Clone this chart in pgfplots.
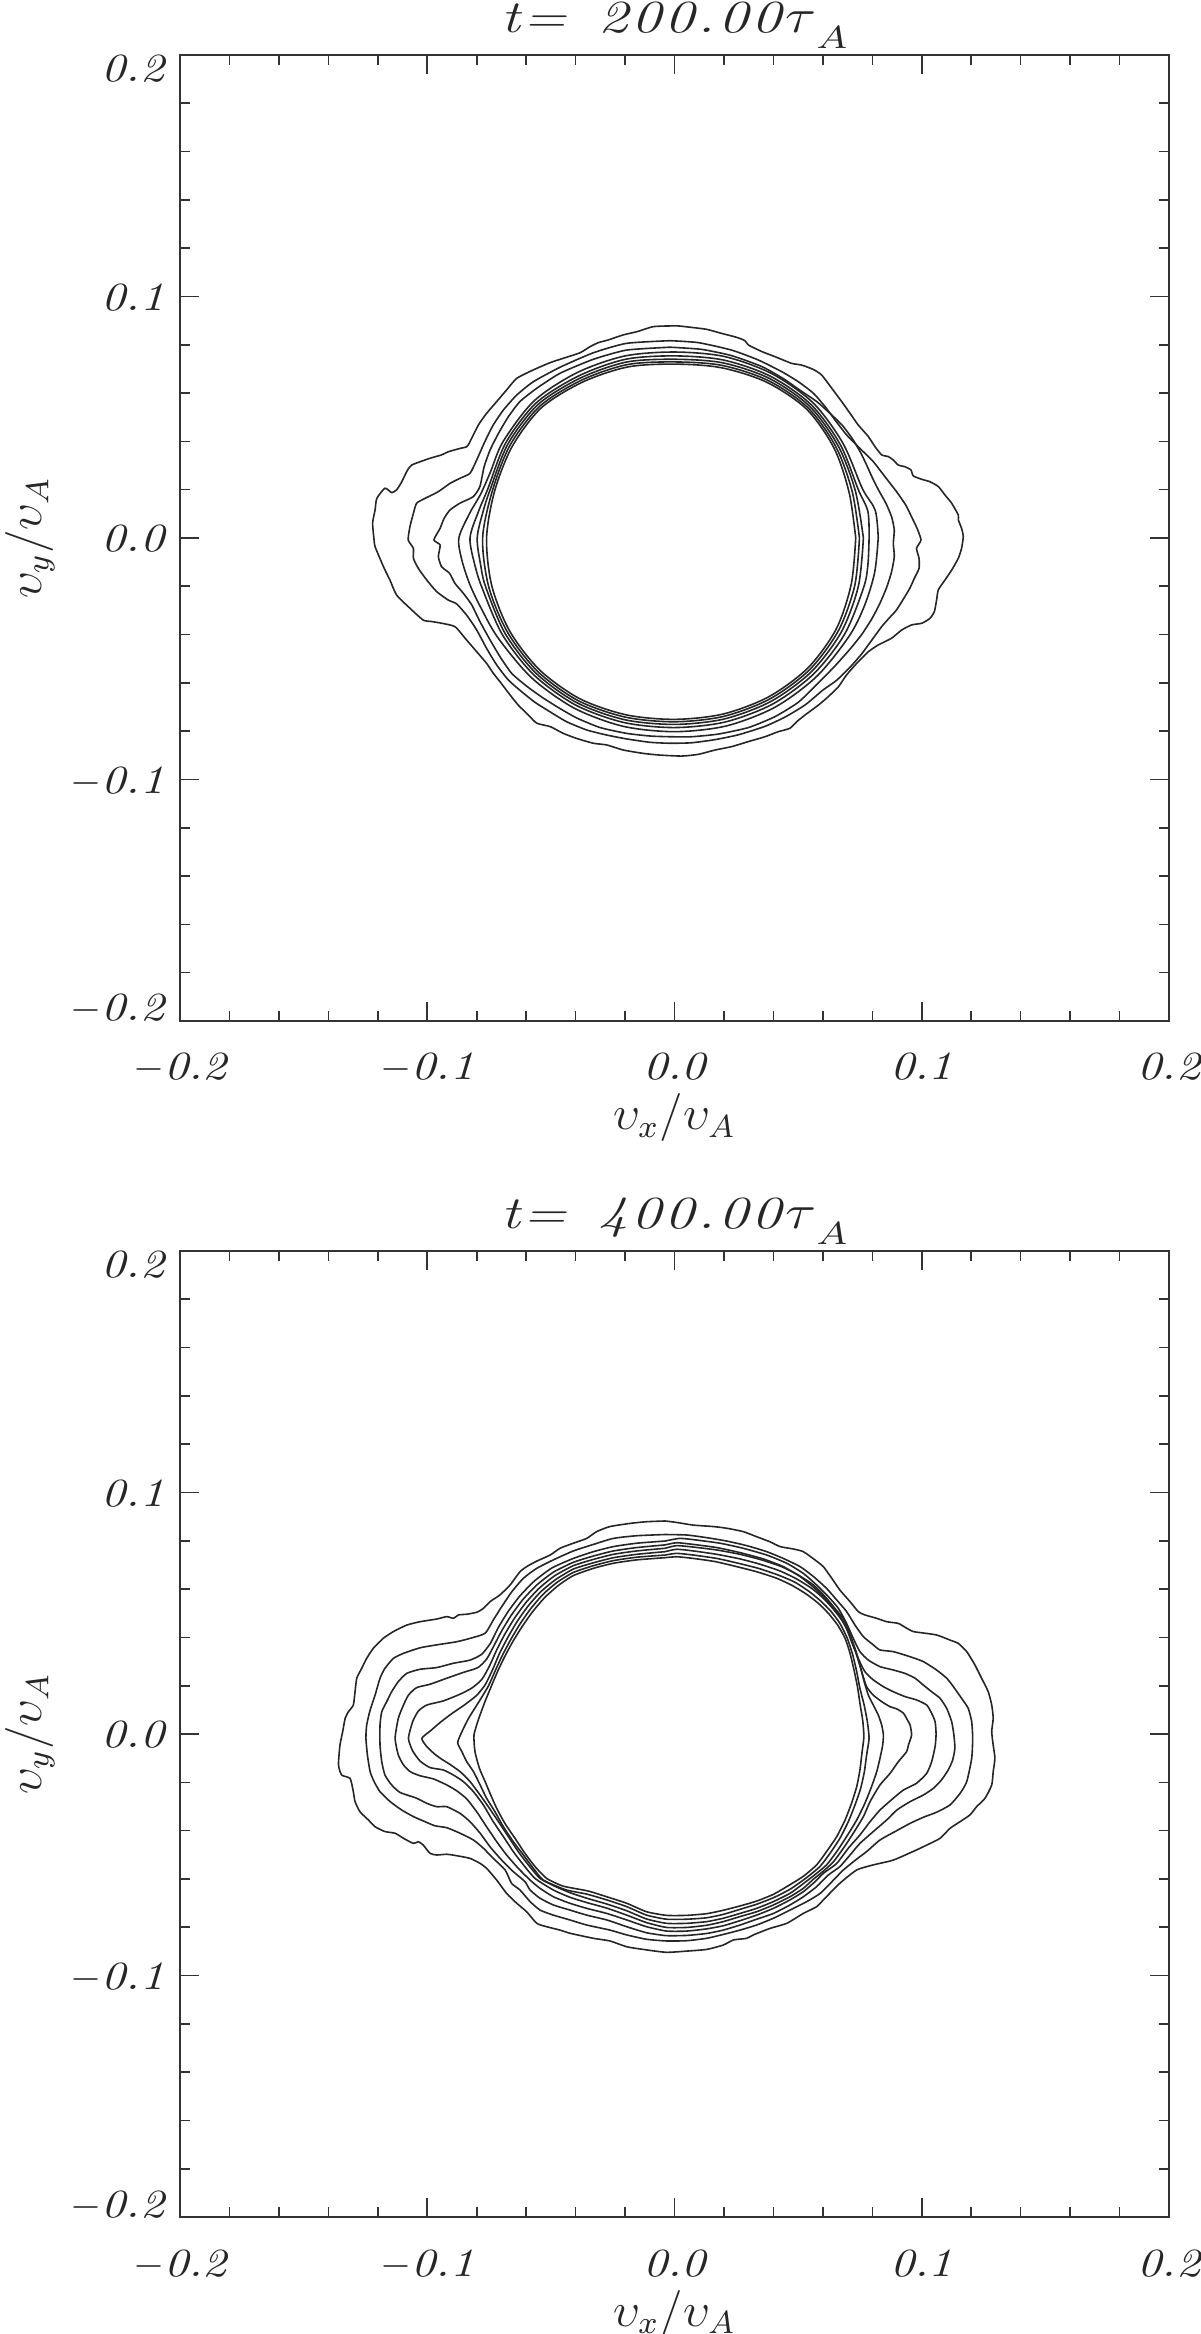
\documentclass[border=0pt]{standalone}
\usepackage{graphicx}
\usepackage{pgfplots}
\pgfplotsset{compat=1.18}
\newcommand{\nm}[1]{\scalebox{1.18}[1]{\itshape #1}}
\newcommand{\tfont}{\fontsize{10}{12}\selectfont}
\newcommand{\lfont}{\fontsize{12}{14}\selectfont}
\newcommand{\ttl}[1]{\fontsize{11.5}{13}\selectfont\scalebox{1.25}[1]{\itshape t\kern0.6pt=}\kern8pt\scalebox{1.3}[1]{\itshape #1}\kern1pt\scalebox{1.2}[1]{$\tau$}\raisebox{-4pt}{\scalebox{1.2}[1]{$\scriptstyle A$}}}
\pgfplotsset{
 cl/.style={draw=black!85, line width=0.4pt, smooth, tension=0.35, mark=none},
 cp/.style={draw=black!85, line width=0.4pt, smooth, tension=0.5, mark=none, data cs=polar},
 panel/.style={
  scale only axis, width=247.25pt, height=241.5pt,
  xmin=-0.2, xmax=0.2, ymin=-0.2, ymax=0.2,
  xtick={-0.2,-0.1,0,0.1,0.2}, ytick={-0.2,-0.1,0,0.1,0.2},
  minor tick num=4, tick align=inside,
  major tick length=4.75pt, minor tick length=2.4pt,
  axis line style={draw=black!80, line width=0.4pt},
  every tick/.style={draw=black!80, line width=0.4pt},
  xticklabels={$-$\nm{0.2},$-$\nm{0.1},\nm{0.0},\nm{0.1},\nm{0.2}},
  yticklabels={\raisebox{0pt}[0pt][0pt]{$-$\nm{0.2}},\raisebox{-3.6pt}[0pt][0pt]{$-$\nm{0.1}},\raisebox{-3.4pt}[0pt][0pt]{\nm{0.0}},\raisebox{-3.6pt}[0pt][0pt]{\nm{0.1}},\raisebox{-6.6pt}[0pt][0pt]{\nm{0.2}}},
  xticklabel style={font=\tfont, text=black!85, anchor=base, inner sep=0pt, yshift=-14.75pt},
  yticklabel style={font=\tfont, text=black!85, anchor=east, inner sep=0pt, xshift=-3.75pt},
  xlabel={$\upsilon_x/\upsilon_A$}, ylabel={$\upsilon_y/\upsilon_A$},
  every axis x label/.style={at={(axis description cs:0.5,0)}, anchor=base, yshift=-27.25pt, font=\lfont, text=black!85},
  every axis y label/.style={at={(axis description cs:-0.1517,0.5)}, anchor=center, rotate=90, font=\lfont, text=black!85},
  every axis title/.style={at={(axis description cs:0.5,1)}, anchor=base, yshift=5.5pt, text=black!85},
 }
}
\begin{document}
\begin{tikzpicture}
\useasboundingbox (0,0) rectangle (300pt,583.5pt);
% ---------------- top panel ----------------
\begin{axis}[panel, at={(45pt,328.25pt)}, anchor=south west,
  title={\ttl{2\kern0.6pt0\kern0.6pt0\kern0.6pt.\kern0.6pt0\kern0.6pt0}}]
\addplot[cl] coordinates {(-0.0018,0.0878) (-0.0086,0.0875) (-0.0153,0.0854) (-0.0207,0.0841) (-0.0268,0.0820) (-0.0308,0.0809) (-0.0342,0.0792) (-0.0382,0.0767) (-0.0450,0.0744) (-0.0503,0.0726) (-0.0571,0.0696) (-0.0638,0.0661) (-0.0679,0.0613) (-0.0719,0.0565) (-0.0760,0.0516) (-0.0793,0.0468) (-0.0827,0.0399) (-0.0840,0.0378) (-0.0867,0.0371) (-0.0915,0.0357) (-0.0942,0.0344) (-0.0989,0.0330) (-0.1063,0.0302) (-0.1083,0.0275) (-0.1103,0.0233) (-0.1124,0.0199) (-0.1144,0.0188) (-0.1171,0.0206) (-0.1204,0.0164) (-0.1211,0.0116) (-0.1221,0.0061) (-0.1215,-0.0008) (-0.1211,-0.0036) (-0.1177,-0.0119) (-0.1151,-0.0174) (-0.1124,-0.0236) (-0.1070,-0.0291) (-0.1016,-0.0340) (-0.0982,-0.0346) (-0.0942,-0.0353) (-0.0888,-0.0367) (-0.0847,-0.0415) (-0.0800,-0.0471) (-0.0760,-0.0519) (-0.0733,-0.0560) (-0.0706,-0.0595) (-0.0665,-0.0650) (-0.0632,-0.0692) (-0.0591,-0.0733) (-0.0557,-0.0767) (-0.0503,-0.0781) (-0.0450,-0.0809) (-0.0396,-0.0830) (-0.0328,-0.0850) (-0.0274,-0.0857) (-0.0207,-0.0878) (-0.0126,-0.0892) (-0.0059,-0.0899) (0.0029,-0.0903) (0.0096,-0.0896) (0.0164,-0.0878) (0.0231,-0.0864) (0.0299,-0.0843) (0.0366,-0.0823) (0.0420,-0.0802) (0.0467,-0.0788) (0.0494,-0.0761) (0.0528,-0.0733) (0.0582,-0.0692) (0.0622,-0.0657) (0.0663,-0.0616) (0.0696,-0.0567) (0.0737,-0.0519) (0.0784,-0.0471) (0.0824,-0.0443) (0.0878,-0.0415) (0.0919,-0.0381) (0.0959,-0.0360) (0.1000,-0.0353) (0.1033,-0.0333) (0.1051,-0.0305) (0.1060,-0.0257) (0.1067,-0.0215) (0.1094,-0.0174) (0.1121,-0.0133) (0.1148,-0.0084) (0.1161,-0.0043) (0.1168,0.0006) (0.1161,0.0040) (0.1148,0.0075) (0.1148,0.0095) (0.1121,0.0144) (0.1094,0.0178) (0.1067,0.0213) (0.1033,0.0233) (0.1000,0.0243) (0.0966,0.0257) (0.0956,0.0282) (0.0932,0.0295) (0.0905,0.0302) (0.0885,0.0323) (0.0865,0.0337) (0.0838,0.0344) (0.0811,0.0378) (0.0784,0.0420) (0.0743,0.0468) (0.0710,0.0516) (0.0676,0.0565) (0.0636,0.0620) (0.0595,0.0675) (0.0561,0.0698) (0.0514,0.0716) (0.0474,0.0723) (0.0406,0.0751) (0.0353,0.0772) (0.0299,0.0799) (0.0285,0.0817) (0.0251,0.0831) (0.0191,0.0847) (0.0130,0.0864) (0.0069,0.0872) (0.0016,0.0878) (-0.0018,0.0878)};
\addplot[cl] coordinates {(-0.0018,0.0817) (-0.0194,0.0806) (-0.0328,0.0767) (-0.0463,0.0707) (-0.0571,0.0647) (-0.0638,0.0592) (-0.0692,0.0530) (-0.0733,0.0468) (-0.0767,0.0399) (-0.0800,0.0323) (-0.0827,0.0268) (-0.0868,0.0247) (-0.0908,0.0226) (-0.0955,0.0192) (-0.1009,0.0164) (-0.1043,0.0144) (-0.1056,0.0102) (-0.1070,0.0047) (-0.1077,-0.0008) (-0.1056,-0.0043) (-0.1056,-0.0084) (-0.1036,-0.0126) (-0.1002,-0.0174) (-0.0962,-0.0222) (-0.0915,-0.0257) (-0.0881,-0.0273) (-0.0841,-0.0319) (-0.0800,-0.0381) (-0.0760,-0.0457) (-0.0719,-0.0526) (-0.0672,-0.0588) (-0.0620,-0.0635) (-0.0565,-0.0680) (-0.0500,-0.0722) (-0.0436,-0.0761) (-0.0355,-0.0795) (-0.0274,-0.0816) (-0.0194,-0.0832) (-0.0099,-0.0846) (-0.0018,-0.0850) (0.0069,-0.0848) (0.0164,-0.0835) (0.0258,-0.0815) (0.0366,-0.0780) (0.0450,-0.0740) (0.0530,-0.0690) (0.0600,-0.0630) (0.0655,-0.0590) (0.0710,-0.0535) (0.0757,-0.0480) (0.0800,-0.0420) (0.0838,-0.0367) (0.0867,-0.0333) (0.0898,-0.0298) (0.0925,-0.0254) (0.0952,-0.0208) (0.0970,-0.0167) (0.0989,-0.0126) (0.0989,-0.0084) (0.0979,-0.0043) (0.0997,-0.0008) (0.0981,0.0040) (0.0962,0.0081) (0.0935,0.0137) (0.0898,0.0192) (0.0851,0.0254) (0.0804,0.0316) (0.0750,0.0371) (0.0696,0.0427) (0.0649,0.0489) (0.0609,0.0544) (0.0562,0.0599) (0.0501,0.0647) (0.0433,0.0689) (0.0339,0.0737) (0.0231,0.0778) (0.0096,0.0809) (-0.0018,0.0817)};
\addplot[cl] coordinates {(-0.0018,0.0790) (-0.0194,0.0778) (-0.0328,0.0740) (-0.0463,0.0682) (-0.0557,0.0620) (-0.0625,0.0565) (-0.0672,0.0502) (-0.0712,0.0433) (-0.0746,0.0364) (-0.0770,0.0295) (-0.0787,0.0213) (-0.0814,0.0171) (-0.0868,0.0144) (-0.0908,0.0116) (-0.0932,0.0081) (-0.0948,0.0040) (-0.0973,-0.0008) (-0.0948,-0.0029) (-0.0955,-0.0077) (-0.0942,-0.0119) (-0.0910,-0.0146) (-0.0888,-0.0188) (-0.0854,-0.0229) (-0.0820,-0.0277) (-0.0787,-0.0346) (-0.0746,-0.0422) (-0.0706,-0.0491) (-0.0659,-0.0560) (-0.0600,-0.0612) (-0.0535,-0.0660) (-0.0470,-0.0702) (-0.0396,-0.0745) (-0.0301,-0.0785) (-0.0194,-0.0809) (-0.0099,-0.0820) (-0.0018,-0.0823) (0.0069,-0.0823) (0.0177,-0.0812) (0.0299,-0.0785) (0.0406,-0.0740) (0.0501,-0.0680) (0.0582,-0.0600) (0.0649,-0.0530) (0.0710,-0.0460) (0.0757,-0.0400) (0.0798,-0.0335) (0.0831,-0.0270) (0.0858,-0.0205) (0.0878,-0.0140) (0.0889,-0.0077) (0.0885,-0.0022) (0.0889,0.0033) (0.0878,0.0088) (0.0855,0.0144) (0.0825,0.0199) (0.0800,0.0250) (0.0778,0.0300) (0.0752,0.0355) (0.0720,0.0410) (0.0680,0.0465) (0.0630,0.0515) (0.0575,0.0565) (0.0510,0.0610) (0.0440,0.0660) (0.0353,0.0710) (0.0231,0.0755) (0.0110,0.0781) (-0.0018,0.0790)};
\addplot[cp] coordinates {(0,0.0824) (8,0.0820) (15,0.0787) (30,0.0786) (45,0.0792) (60,0.0786) (75,0.0778) (90,0.0770) (105,0.0780) (120,0.0790) (135,0.0803) (150,0.0800) (160,0.0793) (167,0.0805) (173,0.0835) (180,0.0872) (186,0.0865) (193,0.0850) (200,0.0835) (210,0.0825) (225,0.0818) (240,0.0813) (255,0.0807) (270,0.0802) (285,0.0806) (300,0.0810) (315,0.0812) (330,0.0815) (340,0.0818) (350,0.0822) (360,0.0824)};
\addplot[cp] coordinates {(0,0.0787) (8,0.0790) (15,0.0770) (30,0.0774) (45,0.0781) (60,0.0774) (75,0.0763) (90,0.0754) (105,0.0766) (120,0.0775) (135,0.0791) (150,0.0788) (165,0.0782) (172,0.0800) (180,0.0827) (188,0.0815) (195,0.0805) (210,0.0803) (225,0.0803) (240,0.0799) (255,0.0791) (270,0.0785) (285,0.0789) (300,0.0794) (315,0.0796) (330,0.0795) (345,0.0792) (352,0.0790) (360,0.0787)};
\addplot[cp] coordinates {(0,0.0764) (15,0.0757) (30,0.0764) (45,0.0772) (60,0.0764) (75,0.0751) (90,0.0740) (105,0.0754) (120,0.0764) (135,0.0781) (150,0.0778) (165,0.0772) (172,0.0782) (180,0.0798) (188,0.0792) (195,0.0790) (210,0.0791) (225,0.0792) (240,0.0788) (255,0.0779) (270,0.0772) (285,0.0776) (300,0.0781) (315,0.0783) (330,0.0779) (345,0.0770) (360,0.0764)};
\addplot[cp] coordinates {(0,0.0748) (15,0.0744) (30,0.0754) (45,0.0763) (60,0.0754) (75,0.0740) (90,0.0729) (105,0.0743) (120,0.0754) (135,0.0771) (150,0.0768) (165,0.0762) (180,0.0776) (195,0.0778) (210,0.0780) (225,0.0782) (240,0.0778) (255,0.0768) (270,0.0761) (285,0.0765) (300,0.0770) (315,0.0772) (330,0.0766) (345,0.0755) (360,0.0748)};
\addplot[cp] coordinates {(0,0.0733) (15,0.0731) (30,0.0745) (45,0.0755) (60,0.0745) (75,0.0730) (90,0.0720) (105,0.0733) (120,0.0745) (135,0.0762) (150,0.0758) (165,0.0753) (180,0.0760) (195,0.0765) (210,0.0770) (225,0.0772) (240,0.0768) (255,0.0758) (270,0.0751) (285,0.0755) (300,0.0760) (315,0.0762) (330,0.0755) (345,0.0740) (360,0.0733)};
\end{axis}
% ---------------- bottom panel ----------------
\begin{axis}[panel, at={(45pt,29.25pt)}, anchor=south west,
  title={\ttl{4\kern0.6pt0\kern0.6pt0\kern0.6pt.\kern0.6pt0\kern0.6pt0}}]
\addplot[cl] coordinates {(-0.0038,0.0882) (-0.0113,0.0879) (-0.0180,0.0872) (-0.0261,0.0859) (-0.0315,0.0838) (-0.0355,0.0810) (-0.0409,0.0790) (-0.0463,0.0769) (-0.0503,0.0741) (-0.0557,0.0716) (-0.0598,0.0693) (-0.0625,0.0672) (-0.0665,0.0617) (-0.0706,0.0576) (-0.0746,0.0548) (-0.0773,0.0520) (-0.0800,0.0504) (-0.0840,0.0496) (-0.0874,0.0493) (-0.0894,0.0479) (-0.0921,0.0486) (-0.0962,0.0476) (-0.1029,0.0465) (-0.1083,0.0451) (-0.1137,0.0424) (-0.1178,0.0396) (-0.1218,0.0355) (-0.1245,0.0313) (-0.1265,0.0272) (-0.1285,0.0231) (-0.1292,0.0175) (-0.1299,0.0120) (-0.1319,0.0092) (-0.1332,0.0065) (-0.1342,0.0010) (-0.1353,-0.0046) (-0.1359,-0.0128) (-0.1346,-0.0170) (-0.1312,-0.0184) (-0.1299,-0.0239) (-0.1292,-0.0280) (-0.1272,-0.0322) (-0.1238,-0.0356) (-0.1211,-0.0384) (-0.1171,-0.0404) (-0.1130,-0.0411) (-0.1096,-0.0432) (-0.1056,-0.0453) (-0.1036,-0.0446) (-0.1016,-0.0460) (-0.0989,-0.0494) (-0.0962,-0.0501) (-0.0921,-0.0498) (-0.0881,-0.0504) (-0.0827,-0.0515) (-0.0786,-0.0536) (-0.0760,-0.0556) (-0.0719,-0.0605) (-0.0679,-0.0660) (-0.0638,-0.0701) (-0.0598,-0.0736) (-0.0557,-0.0784) (-0.0517,-0.0798) (-0.0463,-0.0812) (-0.0423,-0.0825) (-0.0328,-0.0846) (-0.0261,-0.0857) (-0.0193,-0.0881) (-0.0113,-0.0894) (-0.0032,-0.0904) (0.0049,-0.0899) (0.0130,-0.0892) (0.0197,-0.0874) (0.0238,-0.0853) (0.0292,-0.0846) (0.0319,-0.0832) (0.0386,-0.0805) (0.0454,-0.0784) (0.0521,-0.0743) (0.0575,-0.0715) (0.0602,-0.0687) (0.0669,-0.0618) (0.0737,-0.0563) (0.0804,-0.0542) (0.0885,-0.0522) (0.0979,-0.0480) (0.1020,-0.0460) (0.1074,-0.0432) (0.1114,-0.0391) (0.1155,-0.0363) (0.1195,-0.0335) (0.1222,-0.0301) (0.1256,-0.0266) (0.1283,-0.0211) (0.1289,-0.0156) (0.1296,-0.0101) (0.1289,-0.0046) (0.1283,0.0010) (0.1289,0.0065) (0.1283,0.0120) (0.1269,0.0175) (0.1242,0.0231) (0.1215,0.0286) (0.1182,0.0341) (0.1148,0.0375) (0.1114,0.0389) (0.1060,0.0410) (0.0993,0.0420) (0.0966,0.0424) (0.0939,0.0438) (0.0905,0.0458) (0.0858,0.0465) (0.0818,0.0479) (0.0770,0.0493) (0.0743,0.0507) (0.0710,0.0548) (0.0669,0.0596) (0.0636,0.0645) (0.0622,0.0665) (0.0602,0.0693) (0.0568,0.0721) (0.0521,0.0755) (0.0481,0.0766) (0.0427,0.0776) (0.0386,0.0796) (0.0332,0.0817) (0.0278,0.0838) (0.0211,0.0852) (0.0157,0.0859) (0.0076,0.0865) (0.0009,0.0876) (-0.0038,0.0882)};
\addplot[cl] coordinates {(-0.0038,0.0826) (-0.0153,0.0821) (-0.0247,0.0810) (-0.0328,0.0785) (-0.0409,0.0758) (-0.0490,0.0721) (-0.0557,0.0686) (-0.0611,0.0645) (-0.0658,0.0589) (-0.0699,0.0527) (-0.0733,0.0472) (-0.0766,0.0417) (-0.0827,0.0396) (-0.0881,0.0382) (-0.0962,0.0369) (-0.1029,0.0357) (-0.1096,0.0334) (-0.1137,0.0313) (-0.1171,0.0272) (-0.1191,0.0231) (-0.1211,0.0161) (-0.1231,0.0099) (-0.1245,0.0037) (-0.1248,-0.0018) (-0.1242,-0.0087) (-0.1231,-0.0156) (-0.1215,-0.0197) (-0.1191,-0.0239) (-0.1150,-0.0280) (-0.1103,-0.0315) (-0.1056,-0.0342) (-0.1016,-0.0360) (-0.0969,-0.0380) (-0.0921,-0.0388) (-0.0867,-0.0411) (-0.0813,-0.0439) (-0.0773,-0.0473) (-0.0733,-0.0515) (-0.0685,-0.0563) (-0.0659,-0.0618) (-0.0625,-0.0646) (-0.0584,-0.0694) (-0.0544,-0.0729) (-0.0490,-0.0750) (-0.0423,-0.0770) (-0.0355,-0.0791) (-0.0261,-0.0812) (-0.0193,-0.0832) (-0.0113,-0.0850) (-0.0032,-0.0857) (0.0049,-0.0856) (0.0130,-0.0846) (0.0197,-0.0830) (0.0265,-0.0812) (0.0332,-0.0791) (0.0400,-0.0763) (0.0467,-0.0729) (0.0535,-0.0694) (0.0589,-0.0660) (0.0643,-0.0605) (0.0683,-0.0563) (0.0737,-0.0518) (0.0777,-0.0487) (0.0831,-0.0439) (0.0892,-0.0404) (0.0953,-0.0370) (0.1006,-0.0345) (0.1060,-0.0324) (0.1114,-0.0294) (0.1155,-0.0246) (0.1182,-0.0197) (0.1202,-0.0101) (0.1206,-0.0018) (0.1202,0.0051) (0.1188,0.0106) (0.1161,0.0148) (0.1128,0.0196) (0.1101,0.0231) (0.1060,0.0265) (0.1006,0.0300) (0.0953,0.0320) (0.0885,0.0341) (0.0831,0.0348) (0.0804,0.0369) (0.0764,0.0403) (0.0730,0.0451) (0.0696,0.0507) (0.0656,0.0555) (0.0615,0.0603) (0.0562,0.0652) (0.0508,0.0693) (0.0440,0.0727) (0.0373,0.0755) (0.0292,0.0780) (0.0211,0.0799) (0.0130,0.0813) (0.0049,0.0824) (-0.0038,0.0826)};
\addplot[cl] coordinates {(-0.0038,0.0799) (-0.0153,0.0790) (-0.0247,0.0776) (-0.0328,0.0755) (-0.0409,0.0727) (-0.0495,0.0688) (-0.0566,0.0634) (-0.0625,0.0572) (-0.0673,0.0507) (-0.0713,0.0440) (-0.0745,0.0375) (-0.0780,0.0330) (-0.0827,0.0306) (-0.0894,0.0293) (-0.0962,0.0275) (-0.1029,0.0268) (-0.1083,0.0251) (-0.1117,0.0217) (-0.1144,0.0175) (-0.1164,0.0134) (-0.1184,0.0092) (-0.1191,0.0037) (-0.1191,-0.0046) (-0.1184,-0.0115) (-0.1171,-0.0170) (-0.1144,-0.0211) (-0.1110,-0.0242) (-0.1043,-0.0266) (-0.1002,-0.0287) (-0.0962,-0.0301) (-0.0921,-0.0301) (-0.0867,-0.0329) (-0.0827,-0.0363) (-0.0786,-0.0411) (-0.0746,-0.0467) (-0.0699,-0.0522) (-0.0652,-0.0570) (-0.0605,-0.0611) (-0.0584,-0.0646) (-0.0544,-0.0680) (-0.0490,-0.0708) (-0.0423,-0.0729) (-0.0355,-0.0750) (-0.0274,-0.0770) (-0.0193,-0.0798) (-0.0113,-0.0823) (-0.0032,-0.0835) (0.0049,-0.0834) (0.0130,-0.0826) (0.0197,-0.0812) (0.0265,-0.0791) (0.0332,-0.0767) (0.0400,-0.0743) (0.0467,-0.0708) (0.0521,-0.0674) (0.0575,-0.0632) (0.0622,-0.0584) (0.0669,-0.0549) (0.0710,-0.0501) (0.0750,-0.0453) (0.0804,-0.0404) (0.0858,-0.0356) (0.0899,-0.0315) (0.0953,-0.0280) (0.1006,-0.0253) (0.1047,-0.0225) (0.1080,-0.0190) (0.1107,-0.0149) (0.1125,-0.0108) (0.1134,-0.0059) (0.1130,-0.0004) (0.1121,0.0051) (0.1101,0.0106) (0.1074,0.0148) (0.1040,0.0175) (0.1006,0.0203) (0.0973,0.0231) (0.0932,0.0251) (0.0885,0.0265) (0.0831,0.0279) (0.0784,0.0306) (0.0750,0.0341) (0.0723,0.0396) (0.0696,0.0458) (0.0663,0.0520) (0.0622,0.0569) (0.0575,0.0617) (0.0521,0.0665) (0.0454,0.0707) (0.0373,0.0741) (0.0278,0.0769) (0.0184,0.0790) (0.0090,0.0803) (0.0022,0.0810) (-0.0038,0.0799)};
\addplot[cl] coordinates {(-0.0038,0.0783) (-0.0153,0.0772) (-0.0247,0.0758) (-0.0328,0.0737) (-0.0409,0.0711) (-0.0490,0.0670) (-0.0557,0.0617) (-0.0613,0.0557) (-0.0660,0.0492) (-0.0700,0.0425) (-0.0733,0.0360) (-0.0760,0.0310) (-0.0795,0.0275) (-0.0854,0.0255) (-0.0921,0.0231) (-0.0989,0.0206) (-0.1043,0.0192) (-0.1076,0.0161) (-0.1096,0.0120) (-0.1117,0.0065) (-0.1130,-0.0018) (-0.1117,-0.0087) (-0.1096,-0.0128) (-0.1069,-0.0156) (-0.1029,-0.0173) (-0.0975,-0.0186) (-0.0921,-0.0211) (-0.0881,-0.0235) (-0.0840,-0.0269) (-0.0800,-0.0322) (-0.0760,-0.0384) (-0.0719,-0.0446) (-0.0679,-0.0501) (-0.0632,-0.0556) (-0.0584,-0.0605) (-0.0544,-0.0639) (-0.0490,-0.0674) (-0.0423,-0.0701) (-0.0355,-0.0722) (-0.0274,-0.0743) (-0.0193,-0.0770) (-0.0113,-0.0798) (-0.0032,-0.0816) (0.0049,-0.0816) (0.0130,-0.0807) (0.0197,-0.0794) (0.0265,-0.0773) (0.0332,-0.0750) (0.0400,-0.0722) (0.0467,-0.0687) (0.0521,-0.0653) (0.0568,-0.0612) (0.0602,-0.0577) (0.0656,-0.0536) (0.0703,-0.0473) (0.0750,-0.0418) (0.0791,-0.0363) (0.0831,-0.0315) (0.0885,-0.0266) (0.0926,-0.0232) (0.0979,-0.0204) (0.1020,-0.0163) (0.1040,-0.0115) (0.1054,-0.0052) (0.1058,0.0000) (0.1054,0.0051) (0.1040,0.0086) (0.1020,0.0120) (0.0979,0.0141) (0.0932,0.0155) (0.0885,0.0175) (0.0845,0.0196) (0.0804,0.0224) (0.0770,0.0258) (0.0743,0.0313) (0.0716,0.0382) (0.0690,0.0451) (0.0656,0.0507) (0.0615,0.0555) (0.0568,0.0603) (0.0508,0.0652) (0.0440,0.0693) (0.0359,0.0725) (0.0265,0.0751) (0.0171,0.0772) (0.0076,0.0785) (0.0009,0.0792) (-0.0038,0.0783)};
\addplot[cl] coordinates {(-0.0038,0.0769) (-0.0153,0.0758) (-0.0247,0.0744) (-0.0328,0.0723) (-0.0409,0.0697) (-0.0485,0.0655) (-0.0548,0.0603) (-0.0602,0.0543) (-0.0648,0.0478) (-0.0687,0.0412) (-0.0720,0.0346) (-0.0748,0.0282) (-0.0780,0.0225) (-0.0820,0.0190) (-0.0867,0.0165) (-0.0935,0.0137) (-0.1002,0.0120) (-0.1036,0.0095) (-0.1059,0.0051) (-0.1076,-0.0018) (-0.1059,-0.0070) (-0.1029,-0.0112) (-0.0989,-0.0139) (-0.0935,-0.0149) (-0.0894,-0.0170) (-0.0854,-0.0197) (-0.0813,-0.0239) (-0.0773,-0.0294) (-0.0733,-0.0363) (-0.0692,-0.0425) (-0.0652,-0.0487) (-0.0611,-0.0542) (-0.0564,-0.0598) (-0.0490,-0.0646) (-0.0423,-0.0676) (-0.0355,-0.0698) (-0.0274,-0.0721) (-0.0193,-0.0750) (-0.0113,-0.0781) (-0.0032,-0.0801) (0.0049,-0.0801) (0.0130,-0.0792) (0.0197,-0.0777) (0.0265,-0.0756) (0.0332,-0.0736) (0.0400,-0.0708) (0.0467,-0.0674) (0.0521,-0.0639) (0.0561,-0.0602) (0.0603,-0.0567) (0.0643,-0.0529) (0.0683,-0.0473) (0.0723,-0.0411) (0.0764,-0.0342) (0.0791,-0.0280) (0.0831,-0.0211) (0.0872,-0.0163) (0.0905,-0.0115) (0.0939,-0.0073) (0.0946,-0.0046) (0.0959,-0.0004) (0.0953,0.0037) (0.0942,0.0058) (0.0926,0.0086) (0.0899,0.0104) (0.0872,0.0113) (0.0838,0.0134) (0.0804,0.0161) (0.0777,0.0196) (0.0757,0.0258) (0.0737,0.0327) (0.0713,0.0403) (0.0686,0.0472) (0.0649,0.0520) (0.0609,0.0569) (0.0562,0.0617) (0.0501,0.0658) (0.0433,0.0693) (0.0352,0.0721) (0.0265,0.0744) (0.0171,0.0762) (0.0076,0.0774) (0.0009,0.0780) (-0.0038,0.0769)};
\addplot[cl] coordinates {(-0.0038,0.0755) (-0.0153,0.0744) (-0.0247,0.0730) (-0.0328,0.0709) (-0.0409,0.0683) (-0.0480,0.0640) (-0.0540,0.0590) (-0.0592,0.0530) (-0.0637,0.0465) (-0.0675,0.0398) (-0.0708,0.0333) (-0.0735,0.0268) (-0.0765,0.0205) (-0.0800,0.0160) (-0.0850,0.0120) (-0.0900,0.0085) (-0.0945,0.0050) (-0.0985,0.0015) (-0.1022,-0.0018) (-0.1002,-0.0052) (-0.0969,-0.0084) (-0.0942,-0.0104) (-0.0908,-0.0126) (-0.0867,-0.0156) (-0.0827,-0.0197) (-0.0786,-0.0253) (-0.0753,-0.0301) (-0.0712,-0.0363) (-0.0672,-0.0425) (-0.0632,-0.0487) (-0.0591,-0.0542) (-0.0544,-0.0598) (-0.0485,-0.0630) (-0.0423,-0.0657) (-0.0355,-0.0680) (-0.0274,-0.0704) (-0.0193,-0.0732) (-0.0113,-0.0766) (-0.0032,-0.0784) (0.0049,-0.0784) (0.0130,-0.0777) (0.0197,-0.0763) (0.0265,-0.0743) (0.0332,-0.0722) (0.0400,-0.0694) (0.0467,-0.0660) (0.0514,-0.0625) (0.0565,-0.0585) (0.0615,-0.0542) (0.0656,-0.0487) (0.0696,-0.0425) (0.0737,-0.0356) (0.0770,-0.0287) (0.0797,-0.0218) (0.0818,-0.0156) (0.0831,-0.0101) (0.0842,-0.0046) (0.0845,-0.0004) (0.0838,0.0037) (0.0824,0.0079) (0.0804,0.0120) (0.0784,0.0161) (0.0767,0.0217) (0.0750,0.0286) (0.0730,0.0355) (0.0706,0.0417) (0.0676,0.0472) (0.0640,0.0520) (0.0599,0.0565) (0.0555,0.0603) (0.0494,0.0642) (0.0427,0.0675) (0.0346,0.0703) (0.0265,0.0725) (0.0171,0.0744) (0.0076,0.0758) (0.0009,0.0765) (-0.0038,0.0755)};
\addplot[cl] coordinates {(-0.0038,0.0741) (-0.0153,0.0732) (-0.0247,0.0718) (-0.0328,0.0697) (-0.0409,0.0669) (-0.0475,0.0628) (-0.0532,0.0578) (-0.0583,0.0517) (-0.0627,0.0452) (-0.0665,0.0386) (-0.0698,0.0322) (-0.0725,0.0262) (-0.0752,0.0200) (-0.0790,0.0135) (-0.0830,0.0070) (-0.0855,0.0020) (-0.0877,-0.0035) (-0.0860,-0.0073) (-0.0840,-0.0115) (-0.0813,-0.0156) (-0.0786,-0.0211) (-0.0760,-0.0266) (-0.0726,-0.0322) (-0.0692,-0.0384) (-0.0652,-0.0446) (-0.0611,-0.0501) (-0.0571,-0.0556) (-0.0530,-0.0605) (-0.0440,-0.0645) (-0.0355,-0.0663) (-0.0274,-0.0687) (-0.0193,-0.0715) (-0.0113,-0.0750) (-0.0032,-0.0767) (0.0049,-0.0767) (0.0130,-0.0761) (0.0197,-0.0747) (0.0265,-0.0726) (0.0332,-0.0705) (0.0400,-0.0678) (0.0467,-0.0643) (0.0530,-0.0598) (0.0588,-0.0549) (0.0629,-0.0494) (0.0669,-0.0432) (0.0703,-0.0363) (0.0730,-0.0294) (0.0753,-0.0225) (0.0768,-0.0156) (0.0777,-0.0087) (0.0787,-0.0018) (0.0780,0.0051) (0.0767,0.0120) (0.0750,0.0189) (0.0737,0.0258) (0.0721,0.0327) (0.0699,0.0396) (0.0669,0.0458) (0.0632,0.0509) (0.0591,0.0551) (0.0546,0.0589) (0.0488,0.0628) (0.0420,0.0658) (0.0339,0.0686) (0.0258,0.0707) (0.0171,0.0727) (0.0076,0.0741) (0.0009,0.0748) (-0.0038,0.0741)};
\addplot[cl] coordinates {(-0.0038,0.0730) (-0.0153,0.0721) (-0.0247,0.0707) (-0.0328,0.0686) (-0.0409,0.0656) (-0.0470,0.0615) (-0.0525,0.0565) (-0.0575,0.0505) (-0.0618,0.0442) (-0.0656,0.0379) (-0.0688,0.0318) (-0.0715,0.0260) (-0.0740,0.0200) (-0.0768,0.0130) (-0.0793,0.0060) (-0.0811,-0.0004) (-0.0807,-0.0073) (-0.0789,-0.0142) (-0.0766,-0.0197) (-0.0743,-0.0253) (-0.0719,-0.0308) (-0.0686,-0.0370) (-0.0645,-0.0432) (-0.0605,-0.0494) (-0.0564,-0.0549) (-0.0517,-0.0598) (-0.0450,-0.0630) (-0.0350,-0.0650) (-0.0274,-0.0674) (-0.0193,-0.0701) (-0.0113,-0.0736) (-0.0032,-0.0751) (0.0049,-0.0751) (0.0130,-0.0744) (0.0197,-0.0730) (0.0265,-0.0712) (0.0332,-0.0692) (0.0400,-0.0664) (0.0454,-0.0632) (0.0520,-0.0590) (0.0575,-0.0542) (0.0615,-0.0487) (0.0656,-0.0425) (0.0690,-0.0356) (0.0716,-0.0287) (0.0737,-0.0218) (0.0750,-0.0149) (0.0758,-0.0080) (0.0766,-0.0011) (0.0761,0.0058) (0.0750,0.0127) (0.0740,0.0196) (0.0726,0.0265) (0.0710,0.0334) (0.0690,0.0396) (0.0660,0.0451) (0.0622,0.0500) (0.0582,0.0541) (0.0535,0.0578) (0.0478,0.0614) (0.0413,0.0645) (0.0332,0.0672) (0.0252,0.0693) (0.0164,0.0714) (0.0076,0.0727) (0.0009,0.0734) (-0.0038,0.0730)};
\end{axis}
\end{tikzpicture}
\end{document}
